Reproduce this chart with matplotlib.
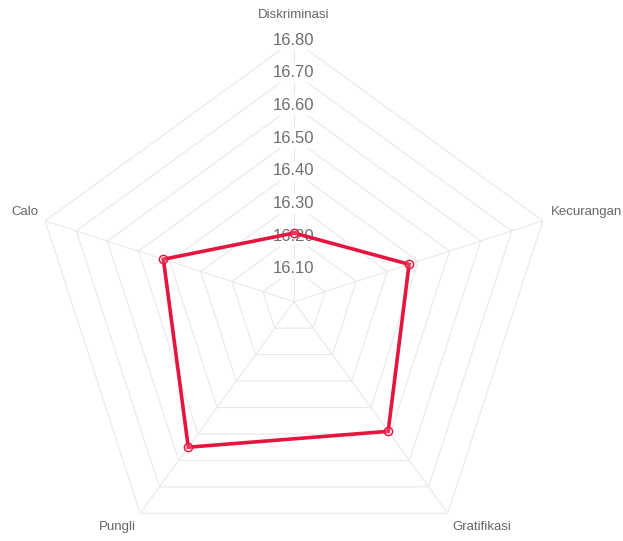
import numpy as np
import matplotlib
matplotlib.use("Agg")
import matplotlib.pyplot as plt

categories = ["Diskriminasi", "Kecurangan", "Gratifikasi", "Pungli", "Calo"]
values = [16.21, 16.37, 16.49, 16.55, 16.42]
ticks = [16.10, 16.20, 16.30, 16.40, 16.50, 16.60, 16.70, 16.80]
tick_labels = ["16.10", "16.20", "16.30", "16.40", "16.50", "16.60", "16.70", "16.80"]
r_min, r_max = 16.0, 16.8

plt.rcParams['font.family'] = ['Liberation Sans', 'DejaVu Sans']

W, H = 623, 541
fig = plt.figure(figsize=(W / 100, H / 100), dpi=100)
cx, cy, R = 294, 301.7, 261.6
ax = fig.add_axes([(cx - R) / W, (H - cy - R) / H, 2 * R / W, 2 * R / H], projection='polar')
ax.set_theta_zero_location('N')
ax.set_theta_direction(-1)
ax.set_ylim(r_min, r_max)
ax.grid(False)
ax.spines['polar'].set_visible(False)
ax.set_xticks([])
ax.set_yticks([])
ax.patch.set_alpha(0)

n = len(categories)
angles = np.linspace(0, 2 * np.pi, n, endpoint=False)
closed = np.concatenate([angles, angles[:1]])

grid_color = '#e8e8e8'
for t in ticks:
    ax.plot(closed, [t] * (n + 1), color=grid_color, lw=0.8, zorder=1)
for a in angles:
    ax.plot([a, a], [r_min, r_max], color=grid_color, lw=0.8, zorder=1)

for t, lab in zip(ticks, tick_labels):
    ax.text(0, t, lab, ha='center', va='center', fontsize=12, color='#6e6e6e', zorder=2,
            bbox=dict(boxstyle='square,pad=0.15', fc='white', ec='none'))

vals = values + values[:1]
line_color = '#e5153f'
ax.plot(closed, vals, color=line_color, lw=2.6, zorder=3, solid_joinstyle='miter')
ax.plot(angles, values, ls='none', marker='o', ms=6, mfc=(1, 0.6, 0.7, 0.25),
        mec=line_color, mew=1.0, zorder=4)

label_specs = [
    ((0, 25), 'center'),
    ((8, 9), 'left'),
    ((5, -14), 'left'),
    ((-4, -14), 'right'),
    ((-7, 9), 'right'),
]
for a, name, (off, ha) in zip(angles, categories, label_specs):
    ax.annotate(name, xy=(a, r_max), xytext=off, textcoords='offset pixels',
                ha=ha, va='center', fontsize=9.5, color='#666666', annotation_clip=False)

fig.savefig('out.png', dpi=100)
